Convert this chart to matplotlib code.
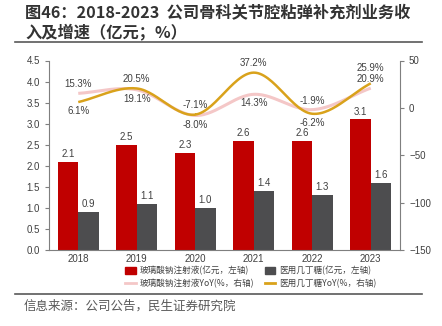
import numpy as np
import matplotlib.pyplot as plt
from matplotlib.lines import Line2D
from matplotlib.patches import Patch

plt.rcParams['font.family'] = ['Noto Sans CJK SC', 'DejaVu Sans']

years = ["2018", "2019", "2020", "2021", "2022", "2023"]
ha_rev = [2.1, 2.5, 2.3, 2.6, 2.6, 3.1]          # 玻璃酸钠注射液 (亿元)
chitosan_rev = [0.9, 1.1, 1.0, 1.4, 1.3, 1.6]    # 医用几丁糖 (亿元)
ha_yoy = [15.3, 19.1, -8.0, 14.3, -1.9, 20.9]
chitosan_yoy = [6.1, 20.5, -7.1, 37.2, -6.2, 25.9]

RED = "#C00000"
DARK = "#4D4D4F"
PINK = "#F4C7C7"
GOLD = "#D9A21B"
GREY = "#7F7F7F"
NUM = "Liberation Sans"


def smooth(x, y, n=30):
    # Catmull-Rom curve through the points (like a smoothed office chart line)
    x = np.asarray(x, float)
    y = np.asarray(y, float)
    px = np.concatenate([[2 * x[0] - x[1]], x, [2 * x[-1] - x[-2]]])
    py = np.concatenate([[2 * y[0] - y[1]], y, [2 * y[-1] - y[-2]]])
    xs, ys = [], []
    t = np.linspace(0, 1, n)
    for i in range(1, len(px) - 2):
        for p, out in ((px, xs), (py, ys)):
            p0, p1, p2, p3 = p[i - 1], p[i], p[i + 1], p[i + 2]
            out.extend(0.5 * ((2 * p1) + (-p0 + p2) * t
                              + (2 * p0 - 5 * p1 + 4 * p2 - p3) * t ** 2
                              + (-p0 + 3 * p1 - 3 * p2 + p3) * t ** 3))
    return np.array(xs), np.array(ys)


fig = plt.figure(figsize=(4.42, 3.26), dpi=100)
ax = fig.add_axes([49 / 442, 1 - 250 / 326, 351 / 442, 189.5 / 326])
ax2 = ax.twinx()

x = np.arange(len(years))
w = 0.35
b1 = ax.bar(x - w / 2, ha_rev, w, color=RED, zorder=2)
b2 = ax.bar(x + w / 2, chitosan_rev, w, color=DARK, zorder=2)
for bars, vals in ((b1, ha_rev), (b2, chitosan_rev)):
    for r, v in zip(bars, vals):
        ax.text(r.get_x() + r.get_width() / 2, v + 0.07, f"{v:.1f}",
                ha="center", va="bottom", fontsize=7, color="#404040", family=NUM)

ax.set_ylim(0, 4.5)
ax.set_yticks(np.arange(0, 4.51, 0.5))
ax.set_xlim(-0.5, len(years) - 0.5)
ax.set_xticks(x)
ax.set_xticklabels(years)

ax2.set_ylim(-150, 50)
ax2.set_yticks([-150, -100, -50, 0, 50])

sx, sy = smooth(x, ha_yoy)
ax2.plot(sx, sy, color=PINK, lw=2.2, solid_capstyle="butt", zorder=3)
sx, sy = smooth(x, chitosan_yoy)
ax2.plot(sx, sy, color=GOLD, lw=1.8, solid_capstyle="butt", zorder=4)

# the larger of the two growth rates is labelled above, the smaller below;
# at the last year both go above the line ends, stacked
last = len(years) - 1
for i, (a, b) in enumerate(zip(ha_yoy, chitosan_yoy)):
    hi, lo = (a, b) if a >= b else (b, a)
    if i == last:
        ax2.annotate(f"{lo:.1f}%", (i, lo), xytext=(0, 3), textcoords="offset points",
                     ha="center", va="bottom", fontsize=7, color="#404040", family=NUM)
        ax2.annotate(f"{hi:.1f}%", (i, lo), xytext=(0, 11), textcoords="offset points",
                     ha="center", va="bottom", fontsize=7, color="#404040", family=NUM)
        continue
    ax2.annotate(f"{hi:.1f}%", (i, hi), xytext=(0, 3), textcoords="offset points",
                 ha="center", va="bottom", fontsize=7, color="#404040", family=NUM)
    ax2.annotate(f"{lo:.1f}%", (i, lo), xytext=(0, -3), textcoords="offset points",
                 ha="center", va="top", fontsize=7, color="#404040", family=NUM)

for a in (ax, ax2):
    for s in a.spines.values():
        s.set_visible(False)
    a.tick_params(labelsize=7, colors="#404040", length=3, width=0.8)
    for lab in a.get_xticklabels() + a.get_yticklabels():
        lab.set_family(NUM)
ax.spines["left"].set_visible(True)
ax.spines["bottom"].set_visible(True)
ax2.spines["right"].set_visible(True)
for s in (ax.spines["left"], ax.spines["bottom"], ax2.spines["right"]):
    s.set_color(GREY)
    s.set_linewidth(0.8)
ax.tick_params(axis="y", colors=GREY, labelcolor="#404040")
ax2.tick_params(axis="y", colors=GREY, labelcolor="#404040")
ax.tick_params(axis="x", length=0, pad=3)

# legend fills column-first, so order handles to get bars on row one
handles = [Patch(color=RED), Line2D([], [], color=PINK, lw=2),
           Patch(color=DARK), Line2D([], [], color=GOLD, lw=2)]
labels = ["玻璃酸钠注射液(亿元，左轴)", "玻璃酸钠注射液YoY(%，右轴)",
          "医用几丁糖(亿元，左轴)", "医用几丁糖YoY(%，右轴)"]
fig.legend(handles, labels, ncol=2, loc="center", bbox_to_anchor=(251 / 442, 1 - 277 / 326),
           frameon=False, fontsize=6.2, handlelength=1.2, handleheight=0.9,
           handletextpad=0.5, columnspacing=1.2, labelspacing=0.45,
           labelcolor="#404040")

fig.text(25 / 442, 1 - 13 / 326, "图46：2018-2023  公司骨科关节腔粘弹补充剂业务收",
         fontsize=11.7, fontweight="bold", color="#333333", va="center")
fig.text(25 / 442, 1 - 32 / 326, "入及增速（亿元；%）",
         fontsize=11.7, fontweight="bold", color="#333333", va="center")
fig.add_artist(Line2D([15 / 442, 422 / 442], [1 - 41.5 / 326] * 2, color="#595959", lw=1.2))
fig.add_artist(Line2D([15 / 442, 422 / 442], [1 - 294 / 326] * 2, color="#595959", lw=1.2))
fig.text(24 / 442, 1 - 306 / 326, "信息来源：公司公告，民生证券研究院",
         fontsize=9, color="#595959", va="center")

fig.savefig("out.png", dpi=100)
